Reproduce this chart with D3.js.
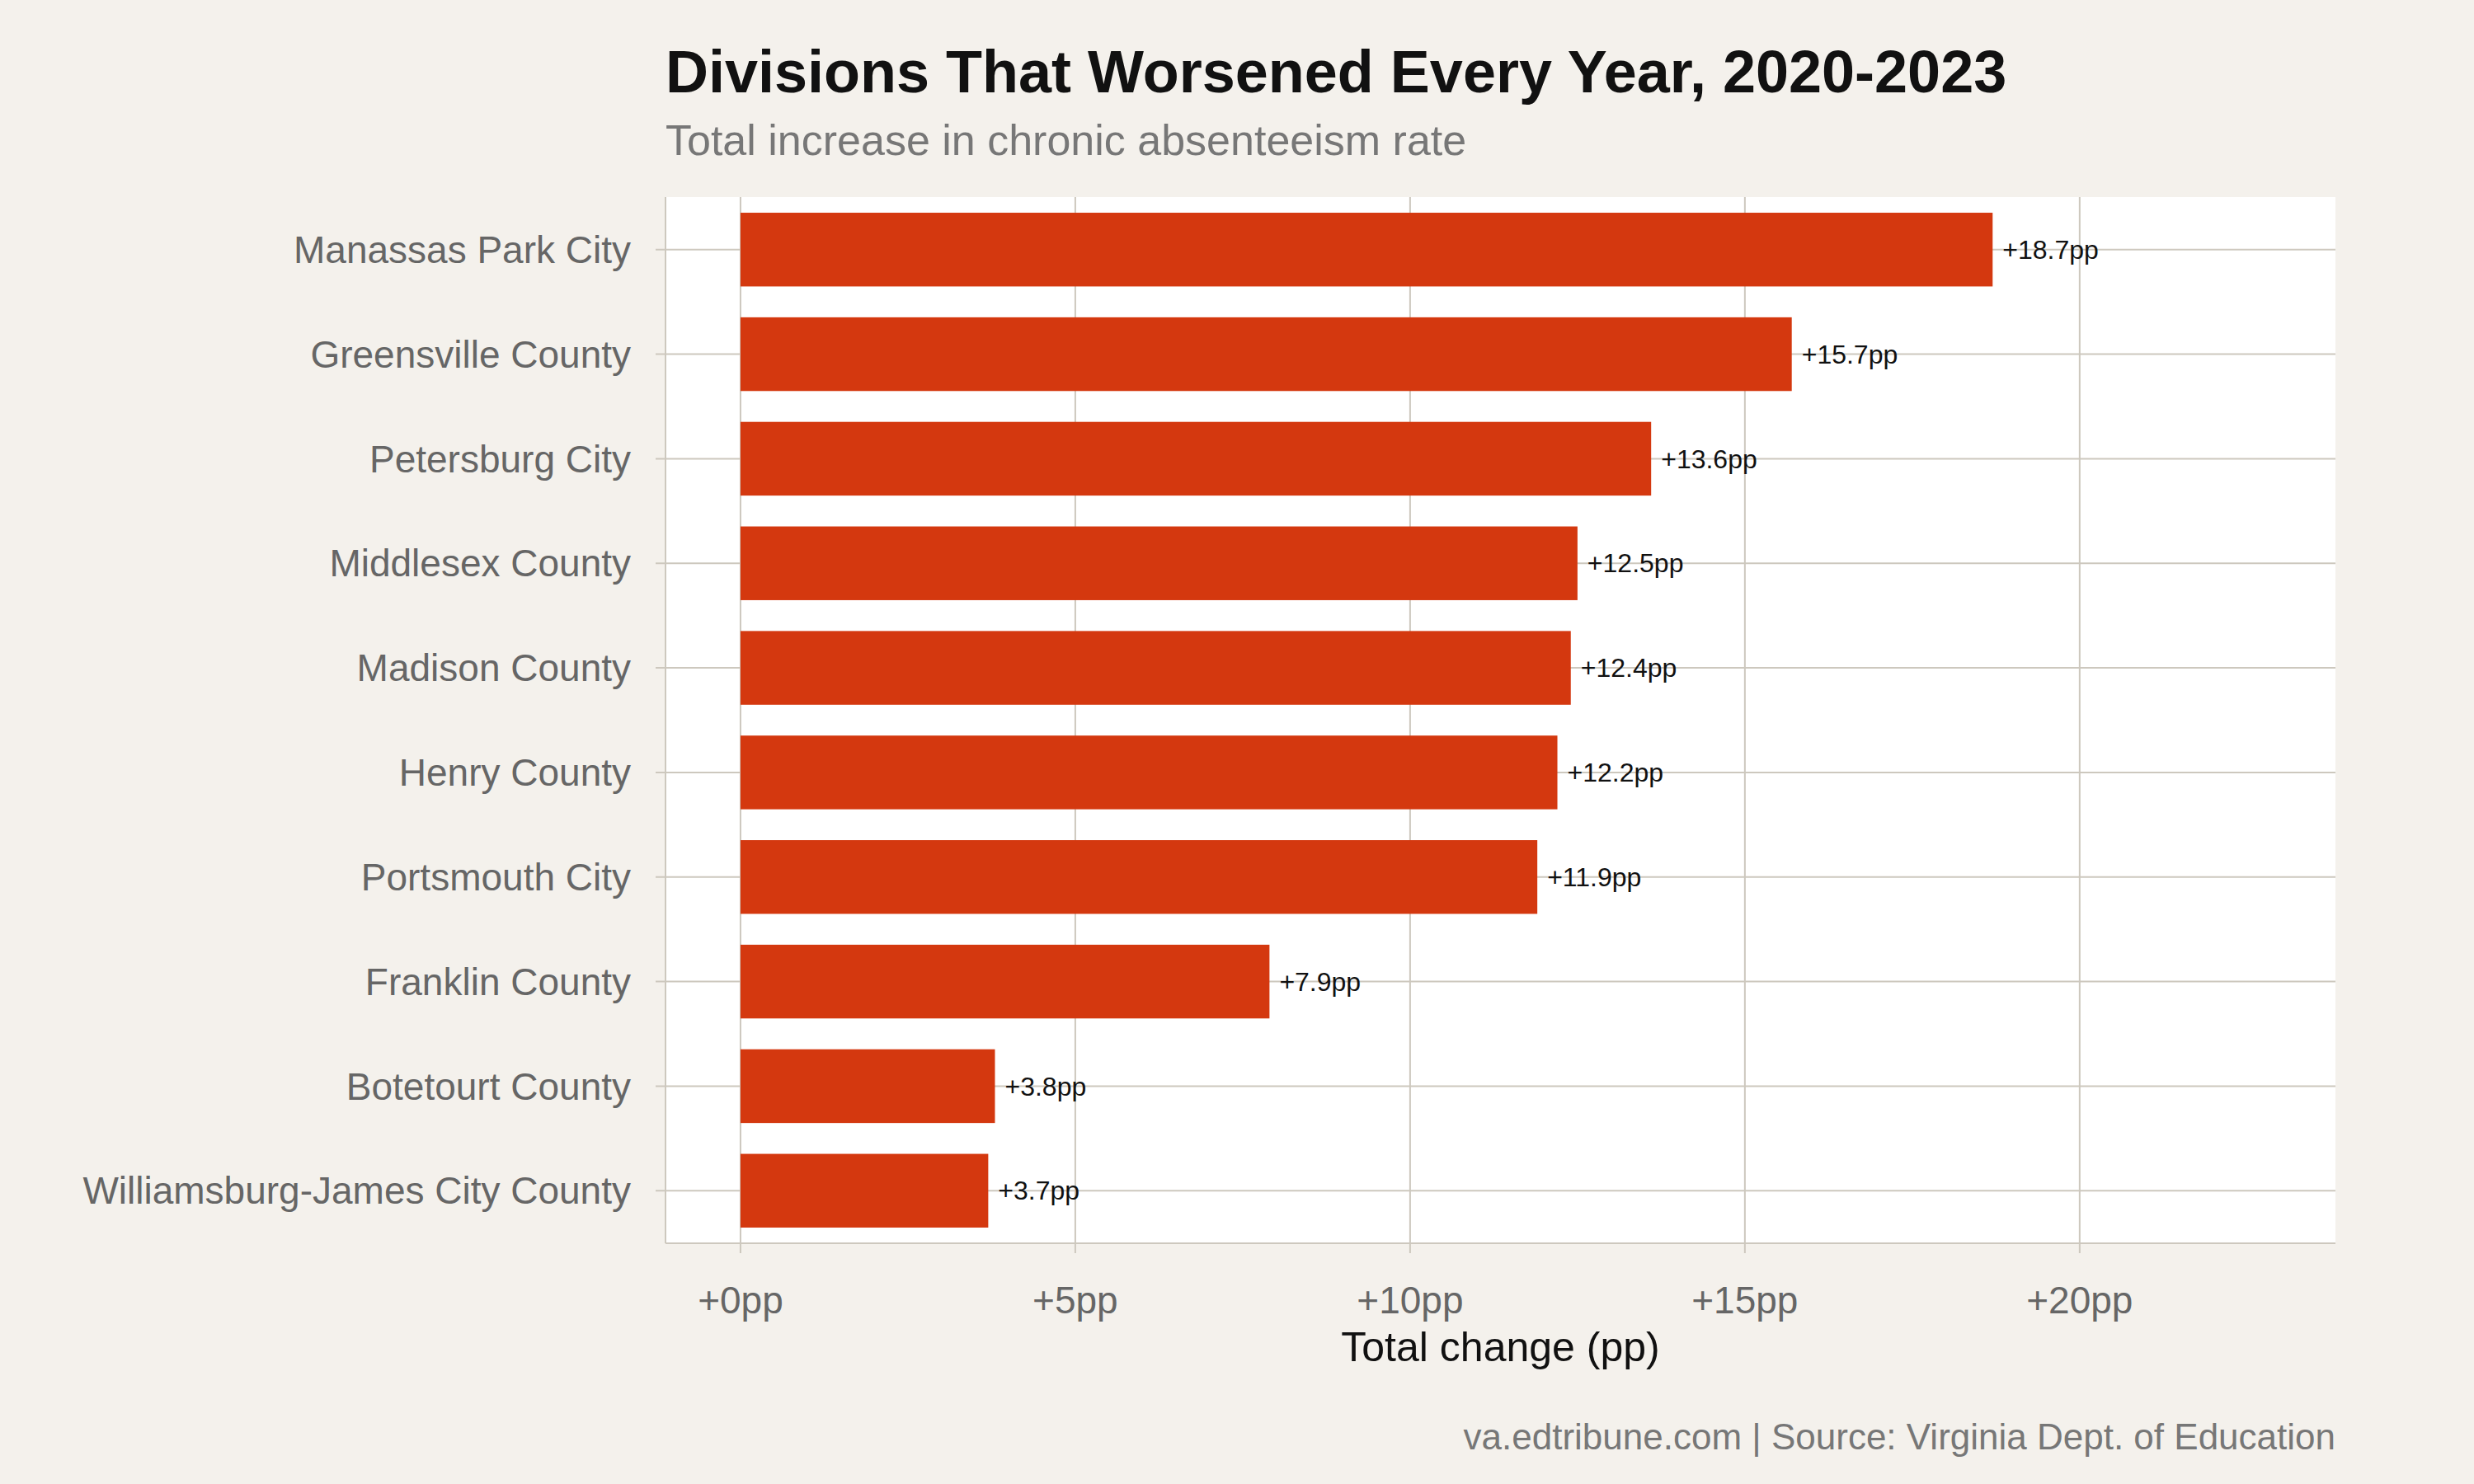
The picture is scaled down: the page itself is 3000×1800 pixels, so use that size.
<!DOCTYPE html>
<html><head><meta charset="utf-8">
<script src="https://cdn.jsdelivr.net/npm/d3@7"></script>
<style>body{margin:0;background:#f4f1ec}</style>
</head><body><svg id="c" width="3000" height="1800"></svg>
<script>
const categories = ["Manassas Park City","Greensville County","Petersburg City","Middlesex County","Madison County","Henry County","Portsmouth City","Franklin County","Botetourt County","Williamsburg-James City County"];
const values = [18.7,15.7,13.6,12.5,12.4,12.2,11.9,7.9,3.8,3.7];
const ticks = [0,5,10,15,20];
const title = "Divisions That Worsened Every Year, 2020-2023";
const subtitle = "Total increase in chronic absenteeism rate";
const xTitle = "Total change (pp)";
const caption = "va.edtribune.com | Source: Virginia Dept. of Education";

const svg = d3.select("#c");
const font = "Liberation Sans, Arial, sans-serif";
svg.append("rect").attr("width",3000).attr("height",1800).attr("fill","#f4f1ec");
const L=807,R=2832,T=239,B=1508;
const x = d3.scaleLinear().domain([-1.12,23.82]).range([L,R]);
const y = d3.scaleBand().domain(categories).range([T,B]).paddingInner(0.295).paddingOuter(0.15);
svg.append("rect").attr("x",L).attr("y",T).attr("width",R-L).attr("height",B-T).attr("fill","#fff");
const grid="#cdc8be";
svg.selectAll(".gx").data(ticks).join("line").attr("x1",d=>x(d)).attr("x2",d=>x(d)).attr("y1",T).attr("y2",B+12).attr("stroke",grid).attr("stroke-width",2);
svg.selectAll(".gy").data(categories).join("line").attr("x1",L-12).attr("x2",R).attr("y1",d=>y(d)+y.bandwidth()/2).attr("y2",d=>y(d)+y.bandwidth()/2).attr("stroke",grid).attr("stroke-width",2);
svg.append("line").attr("x1",L).attr("x2",L).attr("y1",T).attr("y2",B).attr("stroke",grid).attr("stroke-width",2);
svg.append("line").attr("x1",L).attr("x2",R).attr("y1",B).attr("y2",B).attr("stroke",grid).attr("stroke-width",2);
svg.selectAll(".bar").data(categories).join("rect").attr("x",x(0)).attr("y",d=>y(d)).attr("width",(d,i)=>x(values[i])-x(0)).attr("height",y.bandwidth()).attr("fill","#d4380f");
svg.selectAll(".vl").data(categories).join("text").attr("x",(d,i)=>x(values[i])+12).attr("y",d=>y(d)+y.bandwidth()/2).attr("dy","0.35em").attr("font-family",font).attr("font-size",32).attr("fill","#111").text((d,i)=>"+"+values[i].toFixed(1)+"pp");
svg.selectAll(".cl").data(categories).join("text").attr("x",765).attr("y",d=>y(d)+y.bandwidth()/2).attr("dy","0.35em").attr("text-anchor","end").attr("font-family",font).attr("font-size",46).attr("fill","#666").text(d=>d);
svg.selectAll(".tl").data(ticks).join("text").attr("x",d=>x(d)).attr("y",1593).attr("text-anchor","middle").attr("font-family",font).attr("font-size",46).attr("fill","#666").text(d=>"+"+d+"pp");
svg.append("text").attr("x",(L+R)/2).attr("y",1651).attr("text-anchor","middle").attr("font-family",font).attr("font-size",50).attr("fill","#111").text(xTitle);
svg.append("text").attr("x",L).attr("y",112).attr("font-family",font).attr("font-weight","bold").attr("font-size",72).attr("fill","#111").text(title);
svg.append("text").attr("x",L).attr("y",188).attr("font-family",font).attr("font-size",52).attr("fill","#777").text(subtitle);
svg.append("text").attr("x",R).attr("y",1758).attr("text-anchor","end").attr("font-family",font).attr("font-size",44).attr("fill","#777").text(caption);
</script></body></html>
